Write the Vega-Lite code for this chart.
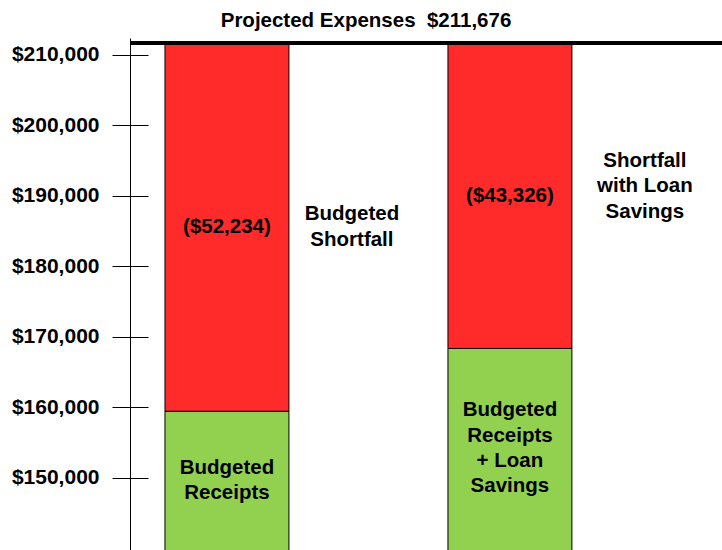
{
  "$schema": "https://vega.github.io/schema/vega-lite/v6.json",
  "width": 592,
  "height": 512,
  "autosize": {"type": "none"},
  "padding": {"left": 130, "top": 38, "right": 0, "bottom": 0},
  "background": "white",
  "config": {
    "view": {"stroke": null},
    "font": "Liberation Sans",
    "axis": {"labelFont": "Liberation Sans"}
  },
  "title": {
    "text": "Projected Expenses\u00a0\u00a0$211,676",
    "fontSize": 20.5,
    "fontWeight": "bold",
    "color": "black",
    "font": "Liberation Sans",
    "anchor": "middle",
    "frame": "group",
    "dx": -60,
    "baseline": "alphabetic",
    "offset": -9
  },
  "datasets": {
    "bars": [
      {"bar": "Budgeted", "segment": "Receipts", "amount": 159442, "order": 1, "label": "Budgeted\nReceipts", "note": ""},
      {"bar": "Budgeted", "segment": "Shortfall", "amount": 52234, "order": 2, "label": "($52,234)", "note": "Budgeted\nShortfall"},
      {"bar": "Loan", "segment": "Receipts", "amount": 168350, "order": 1, "label": "Budgeted\nReceipts\n\u00a0+ Loan\nSavings", "note": ""},
      {"bar": "Loan", "segment": "Shortfall", "amount": 43326, "order": 2, "label": "($43,326)", "note": "Shortfall\nwith Loan\nSavings"}
    ],
    "expenses": [
      {"item": "Projected Expenses", "amount": 211676}
    ]
  },
  "layer": [
    {
      "data": {"name": "bars"},
      "transform": [
        {"stack": "amount", "groupby": ["bar"], "sort": [{"field": "order", "order": "ascending"}], "as": ["lo", "hi"]}
      ],
      "mark": {"type": "bar", "stroke": "black", "strokeWidth": 1, "clip": true},
      "encoding": {
        "x": {"field": "bar", "type": "nominal", "sort": null, "axis": null,
              "scale": {"type": "band", "domain": ["Budgeted", "Loan"], "paddingInner": 0.562, "paddingOuter": 0.327, "align": 0.189}},
        "y": {"field": "hi", "type": "quantitative",
              "scale": {"domain": [139761, 212385], "nice": false, "zero": false},
              "axis": {"orient": "left", "values": [150000, 160000, 170000, 180000, 190000, 200000, 210000], "format": "$,.0f",
                       "title": null, "grid": false, "domain": true, "domainColor": "black", "domainWidth": 1,
                       "ticks": true, "tickSize": 18, "tickColor": "black", "tickWidth": 1,
                       "labelFontSize": 21, "labelFontWeight": "bold", "labelColor": "black", "labelPadding": 13}},
        "y2": {"field": "lo"},
        "color": {"field": "segment", "type": "nominal", "legend": null,
                  "scale": {"domain": ["Receipts", "Shortfall"], "range": ["#92d050", "#ff2a2a"]}}
      }
    },
    {
      "data": {"name": "expenses"},
      "mark": {"type": "rule", "strokeWidth": 4, "color": "black"},
      "encoding": {
        "y": {"field": "amount", "type": "quantitative",
              "scale": {"domain": [139761, 212385], "nice": false, "zero": false},
              "axis": {"orient": "left", "offset": -18, "values": [150000, 160000, 170000, 180000, 190000, 200000, 210000],
                       "title": null, "grid": false, "domain": false, "labels": false,
                       "ticks": true, "tickSize": 18, "tickColor": "black", "tickWidth": 1}}
      }
    },
    {
      "data": {"name": "bars"},
      "transform": [
        {"stack": "amount", "groupby": ["bar"], "sort": [{"field": "order", "order": "ascending"}], "as": ["lo", "hi"]},
        {"calculate": "(max(datum.lo, 139761) + datum.hi) / 2", "as": "mid"},
        {"filter": "datum.segment == 'Shortfall'"}
      ],
      "mark": {"type": "text", "fontSize": 20.5, "fontWeight": "bold", "color": "black", "lineBreak": "\n", "lineHeight": 25.5, "baseline": "middle", "align": "center"},
      "encoding": {
        "x": {"field": "bar", "type": "nominal", "sort": null, "axis": null,
              "scale": {"type": "band", "domain": ["Budgeted", "Loan"], "paddingInner": 0.562, "paddingOuter": 0.327, "align": 0.189}},
        "y": {"field": "mid", "type": "quantitative", "axis": null,
              "scale": {"domain": [139761, 212385], "nice": false, "zero": false}},
        "text": {"field": "label"}
      }
    },
    {
      "data": {"name": "bars"},
      "transform": [
        {"stack": "amount", "groupby": ["bar"], "sort": [{"field": "order", "order": "ascending"}], "as": ["lo", "hi"]},
        {"calculate": "(max(datum.lo, 139761) + datum.hi) / 2", "as": "mid"},
        {"filter": "datum.segment == 'Receipts' && datum.bar == 'Budgeted'"}
      ],
      "mark": {"type": "text", "fontSize": 20.5, "fontWeight": "bold", "color": "black", "lineBreak": "\n", "lineHeight": 25.5, "baseline": "middle", "align": "center", "dy": -13},
      "encoding": {
        "x": {"field": "bar", "type": "nominal", "sort": null, "axis": null,
              "scale": {"type": "band", "domain": ["Budgeted", "Loan"], "paddingInner": 0.562, "paddingOuter": 0.327, "align": 0.189}},
        "y": {"field": "mid", "type": "quantitative", "axis": null,
              "scale": {"domain": [139761, 212385], "nice": false, "zero": false}},
        "text": {"field": "label"}
      }
    },
    {
      "data": {"name": "bars"},
      "transform": [
        {"stack": "amount", "groupby": ["bar"], "sort": [{"field": "order", "order": "ascending"}], "as": ["lo", "hi"]},
        {"calculate": "(max(datum.lo, 139761) + datum.hi) / 2", "as": "mid"},
        {"filter": "datum.segment == 'Receipts' && datum.bar == 'Loan'"}
      ],
      "mark": {"type": "text", "fontSize": 20.5, "fontWeight": "bold", "color": "black", "lineBreak": "\n", "lineHeight": 25.3, "baseline": "middle", "align": "center", "dy": -39},
      "encoding": {
        "x": {"field": "bar", "type": "nominal", "sort": null, "axis": null,
              "scale": {"type": "band", "domain": ["Budgeted", "Loan"], "paddingInner": 0.562, "paddingOuter": 0.327, "align": 0.189}},
        "y": {"field": "mid", "type": "quantitative", "axis": null,
              "scale": {"domain": [139761, 212385], "nice": false, "zero": false}},
        "text": {"field": "label"}
      }
    },
    {
      "data": {"name": "bars"},
      "transform": [
        {"stack": "amount", "groupby": ["bar"], "sort": [{"field": "order", "order": "ascending"}], "as": ["lo", "hi"]},
        {"calculate": "(max(datum.lo, 139761) + datum.hi) / 2", "as": "mid"},
        {"filter": "datum.segment == 'Shortfall' && datum.bar == 'Budgeted'"}
      ],
      "mark": {"type": "text", "fontSize": 20.5, "fontWeight": "bold", "color": "black", "lineBreak": "\n", "lineHeight": 25.5, "baseline": "middle", "align": "center", "dx": 125, "dy": -13},
      "encoding": {
        "x": {"field": "bar", "type": "nominal", "sort": null, "axis": null,
              "scale": {"type": "band", "domain": ["Budgeted", "Loan"], "paddingInner": 0.562, "paddingOuter": 0.327, "align": 0.189}},
        "y": {"field": "mid", "type": "quantitative", "axis": null,
              "scale": {"domain": [139761, 212385], "nice": false, "zero": false}},
        "text": {"field": "note"}
      }
    },
    {
      "data": {"name": "bars"},
      "transform": [
        {"stack": "amount", "groupby": ["bar"], "sort": [{"field": "order", "order": "ascending"}], "as": ["lo", "hi"]},
        {"calculate": "(max(datum.lo, 139761) + datum.hi) / 2", "as": "mid"},
        {"filter": "datum.segment == 'Shortfall' && datum.bar == 'Loan'"}
      ],
      "mark": {"type": "text", "fontSize": 20.5, "fontWeight": "bold", "color": "black", "lineBreak": "\n", "lineHeight": 25.5, "baseline": "middle", "align": "center", "dx": 135, "dy": -35},
      "encoding": {
        "x": {"field": "bar", "type": "nominal", "sort": null, "axis": null,
              "scale": {"type": "band", "domain": ["Budgeted", "Loan"], "paddingInner": 0.562, "paddingOuter": 0.327, "align": 0.189}},
        "y": {"field": "mid", "type": "quantitative", "axis": null,
              "scale": {"domain": [139761, 212385], "nice": false, "zero": false}},
        "text": {"field": "note"}
      }
    }
  ],
  "resolve": {"axis": {"y": "independent"}}
}
